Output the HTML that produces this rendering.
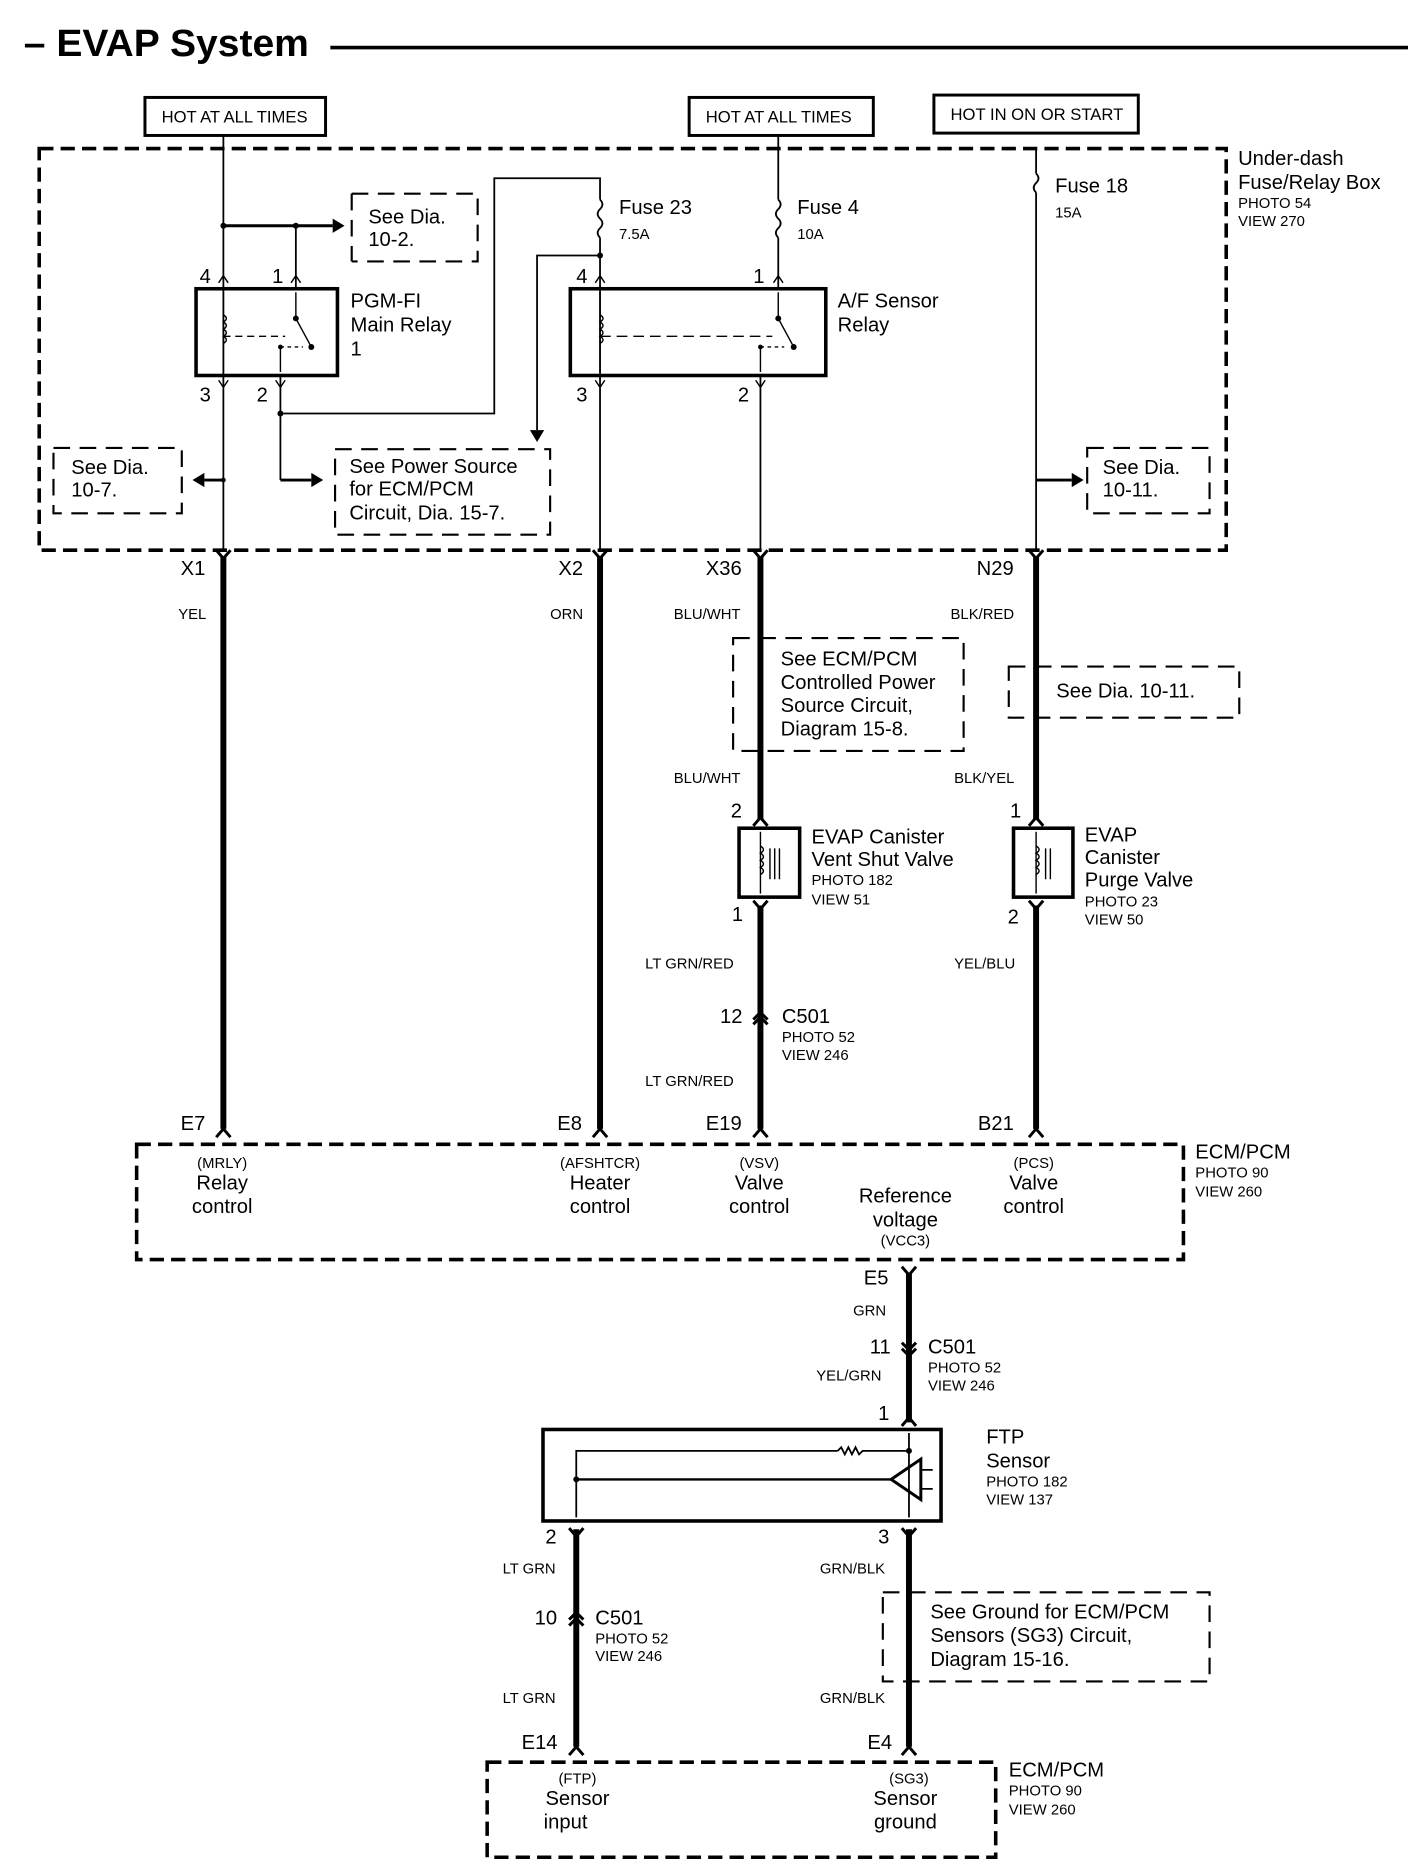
<!DOCTYPE html>
<html><head><meta charset="utf-8"><style>
html,body{margin:0;padding:0;background:#fff}
svg{display:block}
text{font-family:"Liberation Sans",Arial,sans-serif;fill:#000}
.l{font-size:17px}.s{font-size:12.5px}.m{font-size:14px}
</style></head><body>
<svg width="1408" height="1862" viewBox="0 0 1185 1567" preserveAspectRatio="none" xmlns="http://www.w3.org/2000/svg">
<g stroke="#000" fill="none">
<line x1="278" y1="40" x2="1185" y2="40" stroke-width="3"/>
<rect x="122" y="82" width="152" height="32" stroke-width="2.5"/>
<rect x="580" y="82" width="155" height="32" stroke-width="2.5"/>
<rect x="786" y="80" width="172" height="32" stroke-width="2.5"/>
<rect x="33" y="125" width="999" height="338" stroke-width="3" stroke-dasharray="12,6"/>
<g stroke-width="1.5">
<line x1="188" y1="114" x2="188" y2="463"/>
<line x1="188" y1="190" x2="280" y2="190" stroke-width="2.5"/>
<line x1="249" y1="190" x2="249" y2="243"/>
<line x1="236" y1="316" x2="236" y2="404"/>
<polyline points="236,348 416,348 416,150 505,150 505,168"/>
<path d="M505 168 q4 4 0 8 q-4 4 0 8 q4 4 0 8 q-4 4 0 8"/>
<line x1="505" y1="200" x2="505" y2="463"/>
<polyline points="505,215 452,215 452,362"/>
<line x1="655" y1="114" x2="655" y2="168"/>
<path d="M655 168 q4 4 0 8 q-4 4 0 8 q4 4 0 8 q-4 4 0 8"/>
<line x1="655" y1="200" x2="655" y2="243"/>
<line x1="640" y1="316" x2="640" y2="463"/>
<line x1="872" y1="125" x2="872" y2="146"/>
<path d="M872 146 q4 4 0 8 q-4 4 0 8"/>
<line x1="872" y1="162" x2="872" y2="463"/>
</g>
<line x1="236" y1="404" x2="262" y2="404" stroke-width="2.5"/>
<line x1="872" y1="404" x2="902" y2="404" stroke-width="2.5"/>
<line x1="188" y1="404" x2="172" y2="404" stroke-width="2.5"/>
<rect x="165" y="243" width="119" height="73" stroke-width="3"/>
<rect x="480" y="243" width="215" height="73" stroke-width="3"/>
<g stroke-width="1.2">
<line x1="188" y1="246" x2="188" y2="313"/><path d="M188 265 q5 3 0 6 q5 3 0 6 q5 3 0 6 q5 3 0 6"/>
<line x1="188" y1="283" x2="240" y2="283" stroke-dasharray="6,4"/>
<line x1="249" y1="246" x2="249" y2="268"/><line x1="249" y1="268" x2="262" y2="292"/>
<line x1="236" y1="292" x2="236" y2="313"/><line x1="236" y1="292" x2="255" y2="292" stroke-dasharray="3,3"/>
<line x1="505" y1="246" x2="505" y2="313"/><path d="M505 265 q5 3 0 6 q5 3 0 6 q5 3 0 6 q5 3 0 6"/>
<line x1="505" y1="283" x2="650" y2="283" stroke-dasharray="9,5"/>
<line x1="655" y1="246" x2="655" y2="268"/><line x1="655" y1="268" x2="668" y2="292"/>
<line x1="640" y1="292" x2="640" y2="313"/><line x1="640" y1="292" x2="660" y2="292" stroke-dasharray="3,3"/>
<path d="M184 238 l4 -6 l4 6 M245 238 l4 -6 l4 6 M501 238 l4 -6 l4 6 M651 238 l4 -6 l4 6"/>
<path d="M184 320 l4 6 l4 -6 M232 320 l4 6 l4 -6 M501 320 l4 6 l4 -6 M636 320 l4 6 l4 -6"/>
</g>
<g fill="#000" stroke="none">
<circle cx="188" cy="190" r="2.5"/><circle cx="249" cy="190" r="2.5"/><circle cx="236" cy="348" r="2.5"/>
<circle cx="505" cy="215" r="2.5"/><circle cx="249" cy="268" r="2.5"/><circle cx="262" cy="292" r="2.5"/>
<circle cx="655" cy="268" r="2.5"/><circle cx="668" cy="292" r="2.5"/><circle cx="188" cy="404" r="2"/>
<circle cx="236" cy="292" r="2"/><circle cx="640" cy="292" r="2"/>
<polygon points="280,184 290,190 280,196"/><polygon points="262,398 272,404 262,410"/>
<polygon points="902,398 912,404 902,410"/><polygon points="446,362 452,372 458,362"/>
<polygon points="172,398 162,404 172,410"/>
</g>
<g stroke-width="1.8" stroke-dasharray="14,8">
<path d="M296 163 H402 V220 H296 M296 163 V220"/>
<path d="M45 377 H153 V432 H45 Z"/>
<path d="M282 378 H463 V450 H282 Z"/>
<path d="M915 377 H1018 V432 H915 Z"/>
<path d="M617 537 H811 V632 H617 Z"/>
<path d="M849 561 H1043 V604 H849 Z"/>
<path d="M743 1340 H1018 V1415 H743 Z"/>
</g>
<g stroke-width="5">
<line x1="188" y1="469" x2="188" y2="950"/>
<line x1="505" y1="469" x2="505" y2="950"/>
<line x1="640" y1="469" x2="640" y2="690"/>
<line x1="640" y1="762" x2="640" y2="950"/>
<line x1="872" y1="469" x2="872" y2="690"/>
<line x1="872" y1="762" x2="872" y2="950"/>
<line x1="765" y1="1072" x2="765" y2="1197"/>
<line x1="765" y1="1287" x2="765" y2="1470"/>
<line x1="485" y1="1287" x2="485" y2="1470"/>
</g>
<g stroke-width="2.5">
<path d="M182 463 l6 7 l6 -7 M499 463 l6 7 l6 -7 M634 463 l6 7 l6 -7 M866 463 l6 7 l6 -7"/>
<path d="M182 957 l6 -7 l6 7 M499 957 l6 -7 l6 7 M634 957 l6 -7 l6 7 M866 957 l6 -7 l6 7"/>
<path d="M634 695 l6 -7 l6 7 M866 695 l6 -7 l6 7 M634 758 l6 7 l6 -7 M866 758 l6 7 l6 -7"/>
<path d="M634 858 l6 -6 l6 6 M634 862 l6 -6 l6 6"/>
<path d="M759 1066 l6 7 l6 -7 M759 1130 l6 6 l6 -6 M759 1135 l6 6 l6 -6 M759 1200 l6 -7 l6 7"/>
<path d="M479 1286 l6 7 l6 -7 M759 1286 l6 7 l6 -7 M479 1363 l6 -6 l6 6 M479 1368 l6 -6 l6 6"/>
<path d="M479 1477 l6 -7 l6 7 M759 1477 l6 -7 l6 7"/>
</g>
<rect x="622" y="697" width="51" height="58" stroke-width="3"/>
<rect x="853" y="697" width="50" height="58" stroke-width="3"/>
<g stroke-width="1.2">
<line x1="640" y1="700" x2="640" y2="752"/><path d="M640 712 q5 3 0 6 q5 3 0 6 q5 3 0 6 q5 3 0 6"/>
<path d="M648 714 v26 M652 714 v26 M656 714 v26"/>
<line x1="872" y1="700" x2="872" y2="752"/><path d="M872 712 q5 3 0 6 q5 3 0 6 q5 3 0 6 q5 3 0 6"/>
<path d="M880 714 v26 M884 714 v26"/>
</g>
<rect x="115" y="963" width="881" height="97" stroke-width="3" stroke-dasharray="12,6"/>
<rect x="410" y="1483" width="428" height="80" stroke-width="3" stroke-dasharray="12,6"/>
<rect x="457" y="1203" width="335" height="77" stroke-width="3"/>
<g stroke-width="1.5">
<polyline points="485,1277 485,1221 705,1221"/>
<path d="M705 1221 l3 -3 l3 6 l3 -6 l3 6 l3 -6 l3 6 l3 -3 h40"/>
<line x1="765" y1="1206" x2="765" y2="1277"/>
<line x1="485" y1="1245" x2="750" y2="1245" stroke-width="2"/>
<path d="M750 1245 L775 1228 V1262 Z" stroke-width="2.5"/>
<path d="M775 1237 h10 M775 1253 h10"/>
</g>
<g fill="#000" stroke="none"><circle cx="765" cy="1221" r="2.5"/><circle cx="485" cy="1245" r="2.5"/></g>
</g>
<text x="20" y="47" font-size="32" font-weight="bold" textLength="240" lengthAdjust="spacingAndGlyphs">– EVAP System</text>
<text x="136" y="103" class="m">HOT AT ALL TIMES</text>
<text x="594" y="103" class="m">HOT AT ALL TIMES</text>
<text x="800" y="101" class="m">HOT IN ON OR START</text>
<text x="1042" y="139" class="l">Under-dash</text>
<text x="1042" y="159" class="l">Fuse/Relay Box</text>
<text x="1042" y="175" class="s">PHOTO 54</text>
<text x="1042" y="190" class="s">VIEW 270</text>
<text x="310" y="188" class="l">See Dia.</text><text x="310" y="207" class="l">10-2.</text>
<text x="521" y="180" class="l">Fuse 23</text><text x="521" y="201" class="s">7.5A</text>
<text x="671" y="180" class="l">Fuse 4</text><text x="671" y="201" class="s">10A</text>
<text x="888" y="162" class="l">Fuse 18</text><text x="888" y="183" class="s">15A</text>
<text x="168" y="238" class="l">4</text><text x="229" y="238" class="l">1</text>
<text x="485" y="238" class="l">4</text><text x="634" y="238" class="l">1</text>
<text x="168" y="338" class="l">3</text><text x="216" y="338" class="l">2</text>
<text x="485" y="338" class="l">3</text><text x="621" y="338" class="l">2</text>
<text x="295" y="259" class="l">PGM-FI</text><text x="295" y="279" class="l">Main Relay</text><text x="295" y="299" class="l">1</text>
<text x="705" y="259" class="l">A/F Sensor</text><text x="705" y="279" class="l">Relay</text>
<text x="60" y="399" class="l">See Dia.</text><text x="60" y="418" class="l">10-7.</text>
<text x="294" y="398" class="l">See Power Source</text><text x="294" y="417" class="l">for ECM/PCM</text><text x="294" y="437" class="l">Circuit, Dia. 15-7.</text>
<text x="928" y="399" class="l">See Dia.</text><text x="928" y="418" class="l">10-11.</text>
<text x="152" y="484" class="l">X1</text><text x="470" y="484" class="l">X2</text>
<text x="594" y="484" class="l">X36</text><text x="822" y="484" class="l">N29</text>
<text x="150" y="521" class="s">YEL</text><text x="463" y="521" class="s">ORN</text>
<text x="567" y="521" class="s">BLU/WHT</text><text x="800" y="521" class="s">BLK/RED</text>
<text x="657" y="560" class="l">See ECM/PCM</text><text x="657" y="580" class="l">Controlled Power</text>
<text x="657" y="599" class="l">Source Circuit,</text><text x="657" y="619" class="l">Diagram 15-8.</text>
<text x="889" y="587" class="l">See Dia. 10-11.</text>
<text x="567" y="659" class="s">BLU/WHT</text><text x="803" y="659" class="s">BLK/YEL</text>
<text x="615" y="688" class="l">2</text><text x="850" y="688" class="l">1</text>
<text x="683" y="710" class="l">EVAP Canister</text><text x="683" y="729" class="l">Vent Shut Valve</text>
<text x="683" y="745" class="s">PHOTO 182</text><text x="683" y="761" class="s">VIEW 51</text>
<text x="913" y="708" class="l">EVAP</text><text x="913" y="727" class="l">Canister</text><text x="913" y="746" class="l">Purge Valve</text>
<text x="913" y="763" class="s">PHOTO 23</text><text x="913" y="778" class="s">VIEW 50</text>
<text x="616" y="775" class="l">1</text><text x="848" y="777" class="l">2</text>
<text x="543" y="815" class="s">LT GRN/RED</text><text x="803" y="815" class="s">YEL/BLU</text>
<text x="606" y="861" class="l">12</text><text x="658" y="861" class="l">C501</text>
<text x="658" y="877" class="s">PHOTO 52</text><text x="658" y="892" class="s">VIEW 246</text>
<text x="543" y="914" class="s">LT GRN/RED</text>
<text x="152" y="951" class="l">E7</text><text x="469" y="951" class="l">E8</text>
<text x="594" y="951" class="l">E19</text><text x="823" y="951" class="l">B21</text>
<text x="1006" y="975" class="l">ECM/PCM</text><text x="1006" y="991" class="s">PHOTO 90</text><text x="1006" y="1007" class="s">VIEW 260</text>
<g text-anchor="middle">
<text x="187" y="983" class="s">(MRLY)</text><text x="187" y="1001" class="l">Relay</text><text x="187" y="1021" class="l">control</text>
<text x="505" y="983" class="s">(AFSHTCR)</text><text x="505" y="1001" class="l">Heater</text><text x="505" y="1021" class="l">control</text>
<text x="639" y="983" class="s">(VSV)</text><text x="639" y="1001" class="l">Valve</text><text x="639" y="1021" class="l">control</text>
<text x="870" y="983" class="s">(PCS)</text><text x="870" y="1001" class="l">Valve</text><text x="870" y="1021" class="l">control</text>
<text x="762" y="1012" class="l">Reference</text><text x="762" y="1032" class="l">voltage</text><text x="762" y="1048" class="s">(VCC3)</text>
<text x="486" y="1501" class="s">(FTP)</text><text x="486" y="1519" class="l">Sensor</text><text x="476" y="1539" class="l">input</text>
<text x="765" y="1501" class="s">(SG3)</text><text x="762" y="1519" class="l">Sensor</text><text x="762" y="1539" class="l">ground</text>
</g>
<text x="727" y="1081" class="l">E5</text><text x="718" y="1107" class="s">GRN</text>
<text x="732" y="1139" class="l">11</text><text x="781" y="1139" class="l">C501</text>
<text x="781" y="1155" class="s">PHOTO 52</text><text x="781" y="1170" class="s">VIEW 246</text>
<text x="687" y="1162" class="s">YEL/GRN</text>
<text x="739" y="1195" class="l">1</text>
<text x="830" y="1215" class="l">FTP</text><text x="830" y="1235" class="l">Sensor</text>
<text x="830" y="1251" class="s">PHOTO 182</text><text x="830" y="1266" class="s">VIEW 137</text>
<text x="459" y="1299" class="l">2</text><text x="739" y="1299" class="l">3</text>
<text x="423" y="1324" class="s">LT GRN</text><text x="690" y="1324" class="s">GRN/BLK</text>
<text x="450" y="1367" class="l">10</text><text x="501" y="1367" class="l">C501</text>
<text x="501" y="1383" class="s">PHOTO 52</text><text x="501" y="1398" class="s">VIEW 246</text>
<text x="783" y="1362" class="l">See Ground for ECM/PCM</text><text x="783" y="1382" class="l">Sensors (SG3) Circuit,</text><text x="783" y="1402" class="l">Diagram 15-16.</text>
<text x="423" y="1433" class="s">LT GRN</text><text x="690" y="1433" class="s">GRN/BLK</text>
<text x="439" y="1472" class="l">E14</text><text x="730" y="1472" class="l">E4</text>
<text x="849" y="1495" class="l">ECM/PCM</text><text x="849" y="1511" class="s">PHOTO 90</text><text x="849" y="1527" class="s">VIEW 260</text>
</svg>
</body></html>
